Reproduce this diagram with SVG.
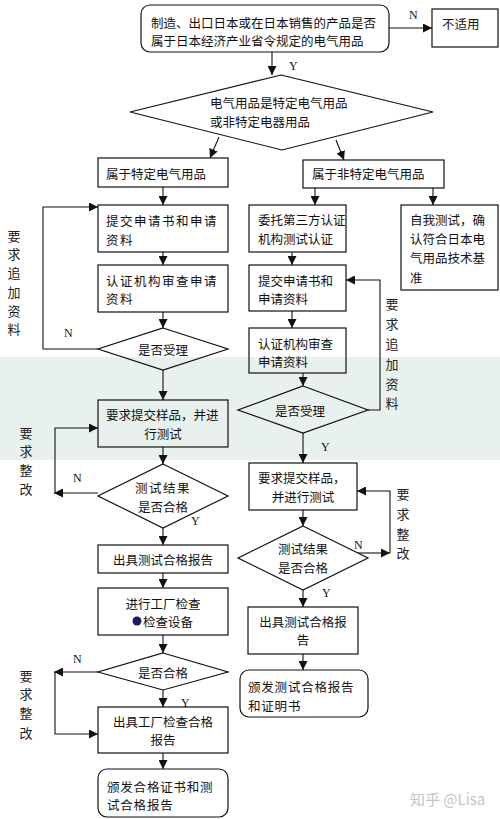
<svg xmlns="http://www.w3.org/2000/svg" width="500" height="819" viewBox="0 0 500 819">
<style>
.b{fill:none;stroke:#111;stroke-width:1.2}
.c{fill:none;stroke:#111;stroke-width:1.1}
.t{font-family:"Noto Sans CJK SC","Noto Sans",sans-serif;font-size:12.5px;fill:#111;dominant-baseline:central}
.w{letter-spacing:1.5px}
.l{font-family:"Liberation Serif",serif;font-size:12px;fill:#111;dominant-baseline:central}
.v{font-family:"Noto Sans CJK SC",sans-serif;font-size:13px;fill:#222;text-anchor:middle;dominant-baseline:central}
</style>
<defs>
<marker id="a" markerUnits="userSpaceOnUse" markerWidth="9" markerHeight="9" refX="9" refY="4.5" orient="auto" viewBox="0 0 9 9"><path d="M0,0 L9,4.5 L0,9 z" fill="#111"/></marker>
</defs>
<rect x="0" y="357" width="500" height="103" fill="#e8f1ed"/>

<g id="q1"><rect class="b" x="141" y="5" width="248" height="47" rx="9"/><text class="t" x="151" y="22">制造、出口日本或在日本销售的产品是否</text><text class="t" x="151" y="40">属于日本经济产业省令规定的电气用品</text></g>
<g id="na"><rect class="b" x="432" y="9" width="66" height="38"/><text class="t" x="442" y="23">不适用</text></g>
<g id="d1"><path class="b" d="M281,75 L433,112 L282,150 L130,112 Z"/><text class="t" x="210" y="102.5">电气用品是特定电气用品</text><text class="t" x="210" y="121.5">或非特定电器用品</text></g>

<g id="L1"><rect class="b" x="98" y="158" width="130" height="29"/><text class="t" x="106" y="173">属于特定电气用品</text></g>
<g id="L2"><rect class="b" x="98" y="205" width="130" height="47"/><text class="t w" x="106" y="220">提交申请书和申请</text><text class="t w" x="106" y="239">资料</text></g>
<g id="L3"><rect class="b" x="98" y="265" width="130" height="47"/><text class="t w" x="106" y="280">认证机构审查申请</text><text class="t w" x="106" y="298.5">资料</text></g>
<g id="L4"><path class="b" d="M163,328 L228,349 L163,370 L98,349 Z"/><text class="t" x="163" y="349" text-anchor="middle">是否受理</text></g>
<g id="L5"><rect class="b" x="98" y="400" width="130" height="47"/><text class="t" x="106" y="414">要求提交样品，并进</text><text class="t" x="163" y="433" text-anchor="middle">行测试</text></g>
<g id="L6"><path class="b" d="M163,464 L228,496 L163,528 L98,496 Z"/><text class="t w" x="163" y="487.5" text-anchor="middle">测试结果</text><text class="t" x="163" y="506.5" text-anchor="middle">是否合格</text></g>
<g id="L7"><rect class="b" x="98" y="545" width="130" height="28"/><text class="t" x="163" y="559" text-anchor="middle">出具测试合格报告</text></g>
<g id="L8"><rect class="b" x="98" y="588" width="130" height="47"/><text class="t" x="163" y="603" text-anchor="middle">进行工厂检查</text><circle cx="137" cy="621" r="4.5" fill="#1a1a66"/><text class="t" x="143" y="621.5">检查设备</text></g>
<g id="L9"><path class="b" d="M163,653 L228,672 L163,690 L98,672 Z"/><text class="t" x="163" y="672" text-anchor="middle">是否合格</text></g>
<g id="L10"><rect class="b" x="98" y="707" width="130" height="46"/><text class="t" x="163" y="721" text-anchor="middle">出具工厂检查合格</text><text class="t" x="163" y="739.5" text-anchor="middle">报告</text></g>
<g id="L11"><rect class="b" x="98" y="769" width="130" height="48" rx="9"/><text class="t" x="107" y="786" style="letter-spacing:0.8px">颁发合格证书和测</text><text class="t" x="107" y="804.5" style="letter-spacing:0.8px">试合格报告</text></g>

<g id="R1"><rect class="b" x="303" y="160" width="141" height="28"/><text class="t" x="312" y="173">属于非特定电气用品</text></g>
<g id="R2"><rect class="b" x="249" y="205" width="97" height="47"/><text class="t" x="258" y="219">委托第三方认证</text><text class="t" x="258" y="238">机构测试认证</text></g>
<g id="S1"><rect class="b" x="401" y="205" width="97" height="85"/><text class="t" x="410" y="219">自我测试，确</text><text class="t" x="410" y="238">认符合日本电</text><text class="t" x="410" y="257">气用品技术基</text><text class="t" x="410" y="277">准</text></g>
<g id="R3"><rect class="b" x="249" y="265" width="97" height="46"/><text class="t" x="258" y="280">提交申请书和</text><text class="t" x="258" y="298.5">申请资料</text></g>
<g id="R4"><rect class="b" x="249" y="328" width="97" height="45"/><text class="t" x="258" y="343">认证机构审查</text><text class="t" x="258" y="361.5">申请资料</text></g>
<g id="R5"><path class="b" d="M303,386 L368,410 L303,433 L238,410 Z"/><text class="t" x="300" y="410" text-anchor="middle">是否受理</text></g>
<g id="R6"><rect class="b" x="249" y="463" width="108" height="47"/><text class="t" x="258" y="477">要求提交样品，</text><text class="t" x="303" y="496" text-anchor="middle">并进行测试</text></g>
<g id="R7"><path class="b" d="M303,526 L368,558 L303,590 L238,558 Z"/><text class="t" x="303" y="548.5" text-anchor="middle">测试结果</text><text class="t" x="303" y="567.5" text-anchor="middle">是否合格</text></g>
<g id="R8"><rect class="b" x="248" y="607" width="110" height="47"/><text class="t" x="303" y="621" text-anchor="middle">出具测试合格报</text><text class="t" x="303" y="639.5" text-anchor="middle">告</text></g>
<g id="R9"><rect class="b" x="240" y="670" width="128" height="47" rx="9"/><text class="t" x="248" y="686" style="letter-spacing:0.8px">颁发测试合格报告</text><text class="t" x="248" y="705" style="letter-spacing:0.8px">和证明书</text></g>

<g id="connectors">
<path class="c" d="M389,28 H432" marker-end="url(#a)"/>
<path class="c" d="M272,52 V75" marker-end="url(#a)"/>
<path class="c" d="M219,137 L210,158" marker-end="url(#a)"/>
<path class="c" d="M336,140 L344,160" marker-end="url(#a)"/>
<path class="c" d="M163,187 V205" marker-end="url(#a)"/>
<path class="c" d="M163,252 V265" marker-end="url(#a)"/>
<path class="c" d="M163,312 V328" marker-end="url(#a)"/>
<path class="c" d="M98,349 H43 V207 H98" marker-end="url(#a)"/>
<path class="c" d="M163,370 V400" marker-end="url(#a)"/>
<path class="c" d="M163,447 V464" marker-end="url(#a)"/>
<path class="c" d="M98,493 H54" marker-end="url(#a)"/>
<path class="c" d="M55,493 V428 H98" marker-end="url(#a)"/>
<path class="c" d="M163,528 V545" marker-end="url(#a)"/>
<path class="c" d="M163,573 V588" marker-end="url(#a)"/>
<path class="c" d="M163,635 V653" marker-end="url(#a)"/>
<path class="c" d="M98,672 H54" marker-end="url(#a)"/>
<path class="c" d="M55,672 V734 H98" marker-end="url(#a)"/>
<path class="c" d="M163,690 V707" marker-end="url(#a)"/>
<path class="c" d="M163,753 V769" marker-end="url(#a)"/>
<path class="c" d="M315,188 V205" marker-end="url(#a)"/>
<path class="c" d="M433,188 V205" marker-end="url(#a)"/>
<path class="c" d="M292,252 V265" marker-end="url(#a)"/>
<path class="c" d="M292,311 V328" marker-end="url(#a)"/>
<path class="c" d="M303,373 V386" marker-end="url(#a)"/>
<path class="c" d="M368,410 H380 V280 H346" marker-end="url(#a)"/>
<path class="c" d="M303,433 V463" marker-end="url(#a)"/>
<path class="c" d="M303,510 V526" marker-end="url(#a)"/>
<path class="c" d="M358,553 H390" marker-end="url(#a)"/>
<path class="c" d="M390,553 V491 H357" marker-end="url(#a)"/>
<path class="c" d="M303,590 V607" marker-end="url(#a)"/>
<path class="c" d="M303,654 V670" marker-end="url(#a)"/>
</g>

<g id="labels">
<text class="l" x="409" y="15">N</text>
<text class="l" x="289" y="66">Y</text>
<text class="l" x="64" y="333">N</text>
<text class="l" x="73" y="478">N</text>
<text class="l" x="191" y="521">Y</text>
<text class="l" x="73" y="659">N</text>
<text class="l" x="181" y="703">Y</text>
<text class="l" x="321" y="447">Y</text>
<text class="l" x="354" y="545">N</text>
<text class="l" x="322" y="593">Y</text>
<text class="v"><tspan x="14" y="235">要</tspan><tspan x="14" y="253">求</tspan><tspan x="14" y="272">追</tspan><tspan x="14" y="291">加</tspan><tspan x="14" y="310">资</tspan><tspan x="14" y="328">料</tspan></text>
<text class="v"><tspan x="26" y="432">要</tspan><tspan x="26" y="450">求</tspan><tspan x="26" y="469">整</tspan><tspan x="26" y="488">改</tspan></text>
<text class="v"><tspan x="26" y="675">要</tspan><tspan x="26" y="693">求</tspan><tspan x="26" y="712">整</tspan><tspan x="26" y="732">改</tspan></text>
<text class="v"><tspan x="392" y="303">要</tspan><tspan x="392" y="323">求</tspan><tspan x="392" y="343">追</tspan><tspan x="392" y="363">加</tspan><tspan x="392" y="383">资</tspan><tspan x="392" y="402">料</tspan></text>
<text class="v"><tspan x="403" y="493">要</tspan><tspan x="403" y="513">求</tspan><tspan x="403" y="533">整</tspan><tspan x="403" y="552">改</tspan></text>
<text x="410" y="798" font-family="Noto Sans CJK SC,sans-serif" font-size="15" fill="#c4c4c4" dominant-baseline="central">知乎 @Lisa</text>
</g>
</svg>
